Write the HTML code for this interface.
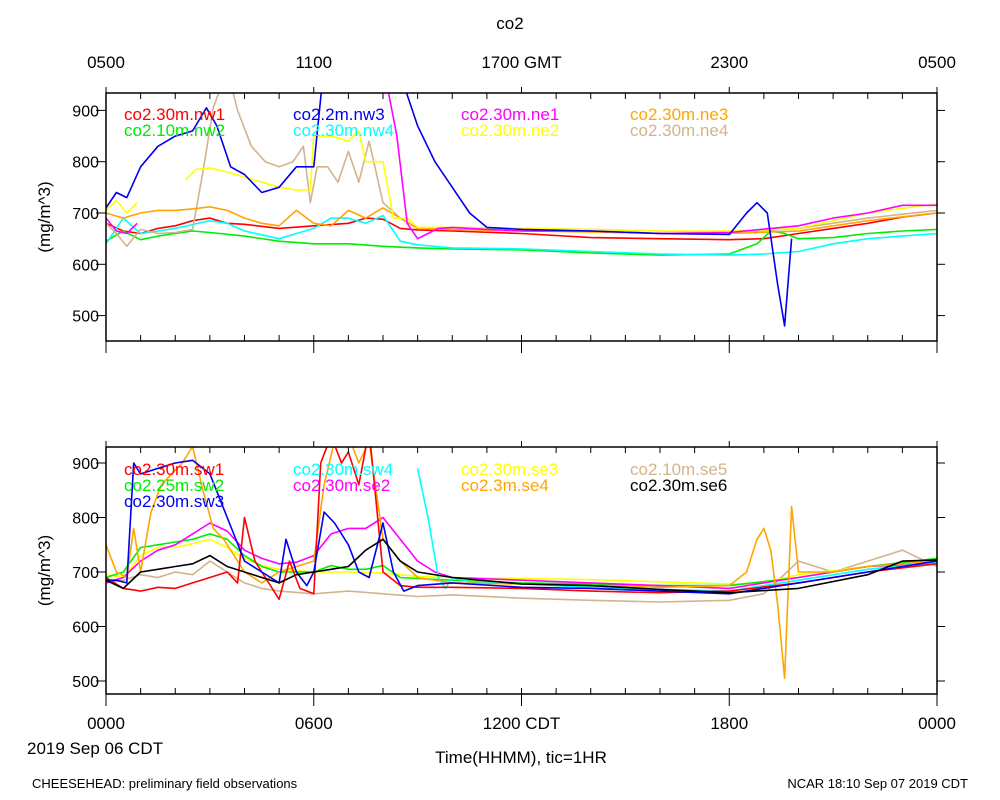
<!DOCTYPE html>
<html><head><meta charset="utf-8"><style>
html,body{margin:0;padding:0;background:#fff}
svg{display:block;font-family:"Liberation Sans",sans-serif}
</style></head><body>
<svg id="chart" width="1000" height="800" viewBox="0 0 1000 800" xmlns="http://www.w3.org/2000/svg">
<defs>
<clipPath id="clipTop"><rect x="106" y="93" width="831" height="248"/></clipPath>
<clipPath id="clipBot"><rect x="106" y="447" width="831" height="247"/></clipPath>
</defs>
<text x="510" y="29" font-size="17" text-anchor="middle">co2</text>
<g id="topAxisLabels" font-size="17" text-anchor="middle"></g>
<g id="panelTop"></g>
<g id="panelBot"></g>
<g id="botAxisLabels" font-size="17" text-anchor="middle"></g>
<text x="27" y="754" font-size="17">2019 Sep 06 CDT</text>
<text x="521" y="763" font-size="17" text-anchor="middle">Time(HHMM), tic=1HR</text>
<text x="32" y="788" font-size="13">CHEESEHEAD: preliminary field observations</text>
<text x="968" y="788" font-size="13" text-anchor="end">NCAR 18:10 Sep 07 2019 CDT</text>
</svg>
<script>
const topTickLabels = ["0500","1100","1700 GMT","2300","0500"];
const botTickLabels = ["0000","0600","1200 CDT","1800","0000"];
const yTicks = [500,600,700,800,900];

// top panel series
const nw1H=[0,0.5,1,1.5,2,2.5,3,3.5,4,5,6,7,7.5,8,8.5,9,10,12,14,16,18,19,20,21,22,23,24];
const nw1V=[680,665,660,670,675,685,690,680,678,670,675,680,690,688,670,667,665,660,652,650,648,650,660,670,680,692,700];
const nw2H=[0,0.5,1,1.5,2,2.5,3,4,5,6,7,8,9,10,12,14,16,18,18.8,19.2,19.6,20,21,22,23,24];
const nw2V=[645,665,648,655,660,665,662,655,645,640,640,635,632,630,628,622,618,620,640,665,660,650,652,660,665,668];
const nw3H=[0,0.3,0.6,1,1.5,2,2.5,2.9,3.2,3.6,4,4.5,5,5.5,6,6.3,6.6,6.9,7.5,8,8.6,9,9.5,10,10.5,11,12,14,16,18,18.5,18.8,19.1,19.4,19.6,19.8];
const nw3V=[710,740,730,790,830,850,860,905,870,790,775,740,750,790,790,990,990,990,990,990,950,870,800,750,700,672,668,665,660,658,700,720,700,560,480,650];
const nw4H=[0,0.5,1,1.5,2,3,3.5,4,5,5.5,6,6.5,7,7.5,8,8.5,9,10,12,14,16,18,19,20,21,22,23,24];
const nw4V=[640,690,660,665,670,685,680,665,650,660,670,690,690,680,695,645,638,632,630,625,620,618,620,625,640,650,655,660];
const ne1H=[0,0.3,0.6,0.9,null,8.0,8.4,8.7,9.0,9.3,9.6,10,11,12,14,16,18,20,21,22,23,24];
const ne1V=[690,665,660,680,null,990,850,680,650,660,670,672,668,665,665,660,662,675,690,700,715,715];
const ne2H=[0,0.3,0.6,0.9,null,2.3,2.6,3,3.5,4,4.5,5,5.5,5.9,6.0,6.5,7,7.3,7.5,8,8.3,8.7,9,9.5,10,12,14,16,18,20,22,24];
const ne2V=[705,725,700,720,null,765,785,788,780,770,760,750,745,745,850,850,840,860,800,800,690,690,672,672,672,670,668,665,665,670,700,718];
const ne3H=[0,0.5,1,1.5,2,2.5,3,3.5,4,4.5,5,5.5,6,6.5,7,7.5,8,8.5,9,10,12,14,16,18,20,22,24];
const ne3V=[700,690,700,705,705,708,712,705,690,680,675,705,680,675,705,690,710,690,670,668,665,663,660,660,665,685,700];
const ne4H=[0,0.3,0.6,1,1.5,2,2.5,2.8,3.1,3.5,3.8,4.2,4.6,5,5.4,5.7,5.9,6.1,6.4,6.7,7,7.3,7.6,8,8.5,9,10,12,14,16,18,20,22,24];
const ne4V=[680,660,635,668,660,662,668,780,905,980,900,830,800,790,800,830,720,790,790,760,820,760,840,720,690,670,672,670,668,665,662,670,690,705];

// bottom panel series
const sw1H=[0,0.5,1,1.5,2,2.5,3,3.5,3.8,4,4.3,4.6,5,5.3,5.6,6,6.2,6.5,6.8,7,7.3,7.6,8,8.5,9,10,12,14,16,18,20,22,24];
const sw1V=[690,670,665,672,670,680,690,700,680,800,720,690,650,720,670,660,900,950,900,920,860,960,700,675,672,672,670,665,662,665,680,700,715];
const sw2H=[0,0.5,1,1.5,2,2.5,3,3.5,4,4.5,5,5.5,6,6.5,7,7.5,8,8.5,9,10,12,14,16,18,20,22,24];
const sw2V=[690,700,745,750,755,760,770,760,730,710,700,700,700,712,705,705,712,690,688,685,680,678,675,675,690,710,725];
const sw3H=[0,0.3,0.6,0.8,1,1.5,2,2.5,3,3.5,4,4.5,5,5.2,5.5,5.8,6,6.3,6.6,7,7.3,7.6,8,8.3,8.6,9,10,12,14,16,18,20,22,24];
const sw3V=[685,685,680,900,880,890,900,905,880,800,720,700,680,760,700,675,700,810,790,750,700,690,790,700,665,675,680,672,670,665,660,680,700,720];
const sw4H=[9.0,9.3,9.6,9.8,10,10.5,12,14,16,18,20,22,24];
const sw4V=[890,800,690,670,690,682,678,672,668,665,685,705,718];
const se2H=[0,0.5,1,1.5,2,2.5,3,3.5,4,4.5,5,5.5,6,6.5,7,7.5,8,8.5,9,9.5,10,12,14,16,18,20,22,24];
const se2V=[680,690,720,740,750,770,790,775,740,725,715,718,730,770,780,780,800,760,720,700,690,685,680,675,670,690,710,715];
const se3H=[0,0.5,1,1.5,2,2.5,3,3.5,4,4.5,5,6,7,8,9,10,12,14,16,18,19,20,22,24];
const se3V=[695,690,730,745,745,752,760,745,725,712,705,700,700,698,692,690,688,686,682,678,680,695,710,720];
const se4H=[0,0.3,0.6,0.8,1,1.3,1.6,1.9,2.2,2.5,2.8,3.1,3.4,3.7,4,4.5,5,5.5,6,6.3,6.6,7,7.3,7.6,8,8.5,9,10,12,14,16,18,18.5,18.8,19,19.2,19.4,19.6,19.8,20,21,22,24];
const se4V=[750,700,690,780,700,810,860,880,900,930,850,780,760,730,700,680,700,710,720,860,940,950,900,940,760,720,690,680,678,675,672,675,700,760,780,740,640,505,820,700,700,710,720];
const se5H=[0,0.5,1,1.5,2,2.5,3,3.5,4,4.5,5,6,7,8,9,10,12,14,16,18,19,19.5,20,21,22,23,24];
const se5V=[680,685,695,690,700,695,720,700,680,670,665,660,665,660,655,658,652,648,645,648,660,690,720,700,720,740,710];
const se6H=[0,0.5,1,1.5,2,2.5,3,3.5,4,4.5,5,5.5,6,6.5,7,7.5,8,8.5,9,10,12,14,16,18,20,22,23,24];
const se6V=[685,670,700,705,710,715,730,710,700,690,680,695,700,705,710,740,760,720,700,690,678,675,668,662,670,695,720,722];

const NS="http://www.w3.org/2000/svg";
const X0=106, X1=937;
function xs(h){return X0+h*(X1-X0)/24;}
const panels={
  top:{y0:93,y1:341,ys:v=>213-(v-700)*0.513,clip:"clipTop",g:"panelTop"},
  bot:{y0:447,y1:694,ys:v=>572-(v-700)*0.545,clip:"clipBot",g:"panelBot"}
};
function mk(tag,attrs,parent){const e=document.createElementNS(NS,tag);for(const k in attrs)e.setAttribute(k,attrs[k]);parent.appendChild(e);return e;}

function drawPanel(p,series,legend){
  const g=document.getElementById(p.g);
  const lines=mk("g",{"clip-path":"url(#"+p.clip+")"},g);
  series.forEach(s=>{
    let d="",pen=false;
    for(let i=0;i<s.h.length;i++){
      if(s.h[i]===null||s.v[i]===null){pen=false;continue;}
      d+=(pen?"L":"M")+xs(s.h[i]).toFixed(1)+" "+p.ys(s.v[i]).toFixed(1);pen=true;
    }
    const path=mk("path",{d:d,fill:"none",stroke:s.c,"stroke-width":"1.6","stroke-linejoin":"round"},lines);
    
    
  });
  const fr=mk("rect",{x:X0,y:p.y0,width:X1-X0,height:p.y1-p.y0,fill:"none",stroke:"#000","stroke-width":"1.5"},g);
  
  
  for(let h=0;h<=24;h++){
    const x=xs(h),maj=h%6===0;
    mk("line",{x1:x,x2:x,y1:p.y0,y2:p.y0+(h%6===0?0:0)-(maj?12:0)+6,stroke:"#000","stroke-width":"1"},g);
    mk("line",{x1:x,x2:x,y1:p.y1-6,y2:p.y1+(maj?12:0),stroke:"#000","stroke-width":"1"},g);
  }
  yTicks.forEach(v=>{
    const y=p.ys(v);
    mk("line",{x1:X0-10,x2:X0,y1:y,y2:y,stroke:"#000","stroke-width":"1"},g);
    mk("line",{x1:X1,x2:X1+8,y1:y,y2:y,stroke:"#000","stroke-width":"1"},g);
    const t=mk("text",{x:99,y:y+6,"font-size":"16","text-anchor":"end"},g);
    t.textContent=v;
    
    
  });
  const yt=mk("text",{x:0,y:0,"font-size":"17","text-anchor":"middle",transform:"translate(50,"+((p.y0+p.y1)/2)+") rotate(-90)"},g);
  yt.textContent="(mg/m^3)";
  
  
  legend.forEach(l=>{
    const t=mk("text",{x:l.x,y:l.y,"font-size":"17",fill:l.c},g);
    t.textContent=l.t;
    
    
  });
}

drawPanel(panels.top,[
 {n:"nw1",h:nw1H,v:nw1V,c:"#ff0000"},{n:"nw2",h:nw2H,v:nw2V,c:"#00ee00"},
 {n:"nw4",h:nw4H,v:nw4V,c:"#00ffff"},{n:"ne4",h:ne4H,v:ne4V,c:"#d2b48c"},
 {n:"ne3",h:ne3H,v:ne3V,c:"#ffa500"},{n:"ne2",h:ne2H,v:ne2V,c:"#ffff00"},
 {n:"ne1",h:ne1H,v:ne1V,c:"#ff00ff"},{n:"nw3",h:nw3H,v:nw3V,c:"#0000ee"}
],[
 {t:"co2.30m.nw1",x:124,y:120,c:"#ff0000"},{t:"co2.10m.nw2",x:124,y:136,c:"#00ee00"},
 {t:"co2.2m.nw3",x:293,y:120,c:"#0000ee"},{t:"co2.30m.nw4",x:293,y:136,c:"#00ffff"},
 {t:"co2.30m.ne1",x:461,y:120,c:"#ff00ff"},{t:"co2.30m.ne2",x:461,y:136,c:"#ffff00"},
 {t:"co2.30m.ne3",x:630,y:120,c:"#ffa500"},{t:"co2.30m.ne4",x:630,y:136,c:"#d2b48c"}
]);
drawPanel(panels.bot,[
 {n:"se5",h:se5H,v:se5V,c:"#d2b48c"},{n:"se3",h:se3H,v:se3V,c:"#ffff00"},
 {n:"sw2",h:sw2H,v:sw2V,c:"#00ee00"},{n:"se2",h:se2H,v:se2V,c:"#ff00ff"},
 {n:"sw4",h:sw4H,v:sw4V,c:"#00ffff"},{n:"se4",h:se4H,v:se4V,c:"#ffa500"},
 {n:"sw1",h:sw1H,v:sw1V,c:"#ff0000"},{n:"sw3",h:sw3H,v:sw3V,c:"#0000ee"},
 {n:"se6",h:se6H,v:se6V,c:"#000000"}
],[
 {t:"co2.30m.sw1",x:124,y:475,c:"#ff0000"},{t:"co2.25m.sw2",x:124,y:491,c:"#00ee00"},
 {t:"co2.30m.sw3",x:124,y:507,c:"#0000ee"},{t:"co2.30m.sw4",x:293,y:475,c:"#00ffff"},
 {t:"co2.30m.se2",x:293,y:491,c:"#ff00ff"},{t:"co2.30m.se3",x:461,y:475,c:"#ffff00"},
 {t:"co2.3m.se4",x:461,y:491,c:"#ffa500"},{t:"co2.10m.se5",x:630,y:475,c:"#d2b48c"},
 {t:"co2.30m.se6",x:630,y:491,c:"#000000"}
]);

const ta=document.getElementById("topAxisLabels");
topTickLabels.forEach((s,i)=>{const t=mk("text",{x:xs(i*6),y:68},ta);t.textContent=s;
 
 });
const ba=document.getElementById("botAxisLabels");
botTickLabels.forEach((s,i)=>{const t=mk("text",{x:xs(i*6),y:729},ba);t.textContent=s;
 
 });
</script>
</body></html>
